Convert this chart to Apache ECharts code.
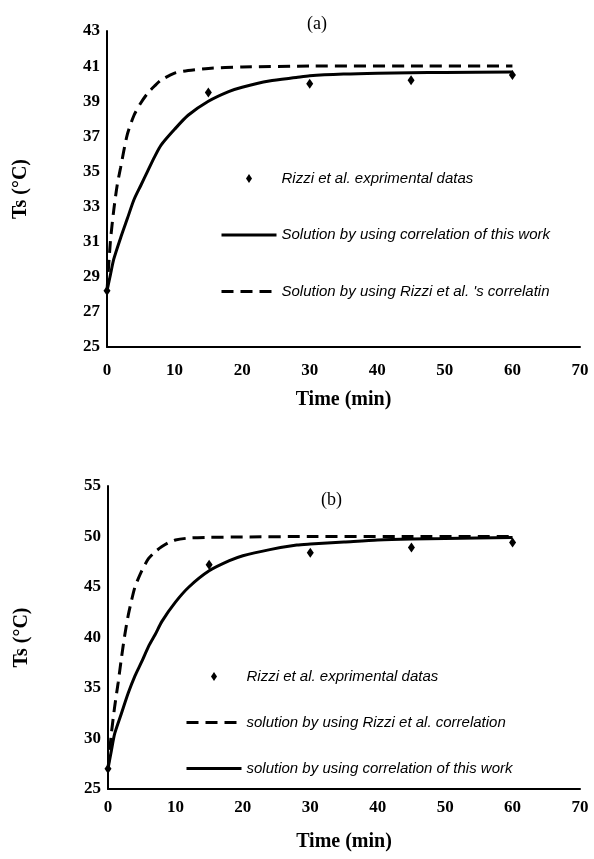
<!DOCTYPE html>
<html>
<head>
<meta charset="utf-8">
<script src="https://cdn.jsdelivr.net/npm/echarts@6/dist/echarts.min.js"></script>
<style>
  html, body { margin: 0; padding: 0; background: #fff; }
  #chart { width: 594px; height: 859px; }
</style>
</head>
<body>
<div id="chart"></div>
<script>
// x axis ticks (min)
const timeTicks = [0, 10, 20, 30, 40, 50, 60, 70];

// (a) experimental points
const expTimeA = [0, 15, 30, 45, 60];
const expTempA = [28.2, 39.5, 40.0, 40.2, 40.5];
// (a) solution using correlation of this work
const workTimeA = [0, 0.5, 1, 2, 3, 4, 5, 6, 7, 8, 10, 12, 15, 18, 20, 24, 28, 30, 35, 40, 45, 50, 60];
const workTempA = [28.2, 29.1, 30.0, 31.2, 32.3, 33.4, 34.2, 35.0, 35.8, 36.5, 37.4, 38.2, 39.0, 39.55, 39.8, 40.15, 40.35, 40.45, 40.55, 40.6, 40.62, 40.64, 40.66];
// (a) solution using Rizzi et al.'s correlation
const rizziTimeA = [0, 0.5, 1, 1.5, 2, 3, 4, 5, 6, 7, 8, 10, 12, 15, 20, 30, 45, 60];
const rizziTempA = [28.2, 31.0, 32.8, 34.2, 35.2, 37.1, 38.2, 38.9, 39.45, 39.85, 40.2, 40.6, 40.75, 40.87, 40.95, 41.0, 41.0, 41.0];

// (b) experimental points
const expTimeB = [0, 15, 30, 45, 60];
const expTempB = [27.0, 47.2, 48.4, 48.9, 49.4];
// (b) solution using Rizzi et al. correlation
const rizziTimeB = [0, 0.5, 1, 1.5, 2, 2.5, 3, 3.5, 4, 5, 6, 7, 8, 9, 10, 12, 15, 20, 30, 45, 60];
const rizziTempB = [27.0, 30.5, 33.2, 35.5, 38.0, 40.3, 42.2, 43.7, 45.0, 46.6, 47.8, 48.5, 49.0, 49.4, 49.65, 49.85, 49.92, 49.95, 50.0, 50.0, 50.0];
// (b) solution using correlation of this work
const workTimeB = [0, 0.5, 1, 2, 3, 4, 5, 6, 7, 8, 10, 12, 15, 18, 20, 24, 28, 30, 35, 40, 45, 50, 60];
const workTempB = [27.0, 28.8, 30.5, 32.5, 34.5, 36.2, 37.6, 39.1, 40.3, 41.6, 43.5, 45.0, 46.6, 47.6, 48.1, 48.7, 49.15, 49.25, 49.45, 49.65, 49.75, 49.8, 49.9];

const legendA = ['Rizzi et al. exprimental datas', 'Solution by using correlation of this work', "Solution by using Rizzi et al. 's correlatin"];
const legendB = ['Rizzi et al. exprimental datas ', 'solution by using Rizzi et al. correlation', 'solution by using correlation of this work'];

function pairs(xs, ys) {
  return xs.map((x, i) => [x, ys[i]]);
}

const serif = '"Liberation Serif", "Times New Roman", serif';
const narrow = '"Liberation Sans Narrow", "Liberation Sans", sans-serif';
// small diamond, padded with move-to points so the legend keeps it small
const diamondIcon = 'path://M3,0 M3,2.5 L6,7 L3,11.5 L0,7 Z M3,14';
const noSymbol = { color: 'rgba(0,0,0,0)', borderWidth: 0 };

function xAxisOf(gridIndex, labelMargin) {
  return {
    type: 'value', gridIndex: gridIndex, min: 0, max: 70, interval: 10,
    name: 'Time (min)', nameLocation: 'middle', nameGap: 43,
    nameTextStyle: { fontFamily: serif, fontWeight: 'bold', fontSize: 20, color: '#000' },
    axisLine: { show: true, onZero: false, lineStyle: { color: '#000', width: 2 } },
    axisTick: { show: false },
    splitLine: { show: false },
    axisLabel: { fontFamily: serif, fontWeight: 'bold', fontSize: 17, color: '#000', margin: labelMargin }
  };
}

function yAxisOf(gridIndex, min, max, interval) {
  return {
    type: 'value', gridIndex: gridIndex, min: min, max: max, interval: interval,
    name: 'Ts (°C)', nameLocation: 'middle', nameGap: 76, nameRotate: 90,
    nameTextStyle: { fontFamily: serif, fontWeight: 'bold', fontSize: 20, color: '#000' },
    axisLine: { show: true, onZero: false, lineStyle: { color: '#000', width: 2 } },
    axisTick: { show: false },
    splitLine: { show: false },
    axisLabel: { fontFamily: serif, fontWeight: 'bold', fontSize: 17, color: '#000', margin: 7 }
  };
}

function lineSeries(name, idx, data, dashed) {
  return {
    name: name, type: 'line', xAxisIndex: idx, yAxisIndex: idx,
    data: data, showSymbol: false, symbol: 'none',
    smooth: 0.25,
    lineStyle: { color: '#000', width: 3, type: dashed ? [12, 7] : 'solid' },
    itemStyle: { color: '#000' },
    z: 2
  };
}

function scatterSeries(name, idx, data) {
  return {
    name: name, type: 'scatter', xAxisIndex: idx, yAxisIndex: idx,
    data: data, symbol: 'diamond', symbolSize: [7, 10],
    itemStyle: { color: '#000', opacity: 1 },
    z: 3
  };
}

function legendOf(names, left, top, gap) {
  return {
    orient: 'vertical', left: left, top: top, padding: 0,
    itemWidth: 55, itemHeight: 14, itemGap: gap,
    data: [
      { name: names[0], icon: diamondIcon },
      { name: names[1], itemStyle: noSymbol },
      { name: names[2], itemStyle: noSymbol }
    ],
    lineStyle: { width: 3 },
    textStyle: { fontFamily: narrow, fontStyle: 'italic', fontSize: 15, color: '#000' },
    selectedMode: false
  };
}

const chart = echarts.init(document.getElementById('chart'));
chart.setOption({
  backgroundColor: '#fff',
  animation: false,
  title: [
    { text: '(a)', left: 302, top: 10, textStyle: { fontFamily: serif, fontWeight: 'normal', fontSize: 18, color: '#000' } },
    { text: '(b)', left: 316, top: 486, textStyle: { fontFamily: serif, fontWeight: 'normal', fontSize: 18, color: '#000' } }
  ],
  legend: [
    legendOf(legendA, 220, 171, 41.5),
    legendOf(legendB, 185, 669, 31)
  ],
  grid: [
    { left: 107, top: 31, width: 473, height: 316 },
    { left: 108, top: 486, width: 472, height: 303 }
  ],
  xAxis: [
    xAxisOf(0, 15),
    xAxisOf(1, 10)
  ],
  yAxis: [
    yAxisOf(0, 25, 43, 2),
    yAxisOf(1, 25, 55, 5)
  ],
  series: [
    scatterSeries(legendA[0], 0, pairs(expTimeA, expTempA)),
    lineSeries(legendA[1], 0, pairs(workTimeA, workTempA), false),
    lineSeries(legendA[2], 0, pairs(rizziTimeA, rizziTempA), true),
    scatterSeries(legendB[0], 1, pairs(expTimeB, expTempB)),
    lineSeries(legendB[1], 1, pairs(rizziTimeB, rizziTempB), true),
    lineSeries(legendB[2], 1, pairs(workTimeB, workTempB), false)
  ]
});
</script>
</body>
</html>
